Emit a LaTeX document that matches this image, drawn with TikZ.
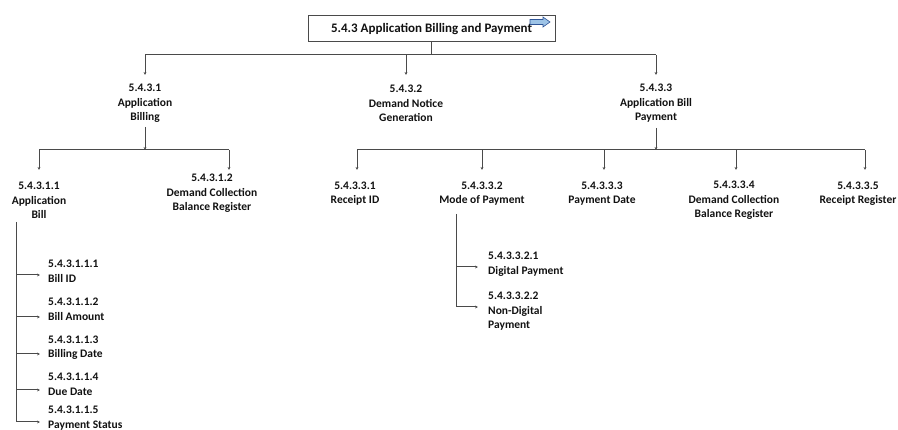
\documentclass[tikz,border=0pt]{standalone}
\usepackage{fontspec}
\setmainfont{Carlito}
\usetikzlibrary{arrows.meta}
\definecolor{ln}{HTML}{4A4A4A}
\definecolor{tx}{HTML}{111111}
\definecolor{icfill}{HTML}{9DC3E6}
\definecolor{icdraw}{HTML}{2F5597}
\tikzset{
  lbl/.style={align=center,inner sep=1pt,text=tx},
  leaf/.style={align=left,anchor=west,inner sep=0pt,text=tx},
  conn/.style={draw=ln,line width=1pt},
  arr/.style={conn,-{Stealth[length=3pt,width=2.8pt]}},
}
\begin{document}
\begin{tikzpicture}[x=1pt,y=-1pt,font=\fontsize{11.5}{14.5}\selectfont\bfseries]
\useasboundingbox (0,0) rectangle (898,430);
% root
\node[draw=ln,line width=1pt,minimum width=247pt,minimum height=26pt,inner sep=0pt,text=tx,font=\fontsize{13}{14}\selectfont\bfseries] (root) at (431.5,29) {5.4.3 Application Billing and Payment};
\fill[icfill,draw=icdraw,line width=0.6pt] (530,19.5) -- (543,19.5) -- (543,17) -- (550,22) -- (543,27) -- (543,24.5) -- (530,24.5) -- cycle;
% level 2
\node[lbl] (a) at (145,103.5) {5.4.3.1\\Application\\Billing};
\node[lbl] (b) at (406,103.5) {5.4.3.2\\Demand Notice\\Generation};
\node[lbl] (c) at (656,103.5) {5.4.3.3\\Application Bill\\Payment};
\coordinate (j0) at (431.5,55);
\coordinate (h0l) at (145,55);
\coordinate (h0m) at (406,55);
\coordinate (h0r) at (656,55);
\draw[conn] (root.south) -- (j0);
\draw[conn] (h0l) -- (h0r);
\draw[arr] (h0l) -- (145,75);
\draw[arr] (h0m) -- (406,75);
\draw[arr] (h0r) -- (656,75);
% level 3 left
\node[lbl] (a1) at (39,200.5) {5.4.3.1.1\\Application\\Bill};
\node[lbl] (a2) at (212,193.5) {5.4.3.1.2\\Demand Collection\\Balance Register};
\coordinate (ja) at (145,150);
\draw[arr] (145,127) -- (ja);
\draw[conn] (39,150) -- (229,150);
\draw[arr] (39,150) -- (39,170);
\draw[arr] (229,150) -- (229,170);
% level 3 right
\node[lbl] (c1) at (355,193.5) {5.4.3.3.1\\Receipt ID};
\node[lbl] (c2) at (482,193.5) {5.4.3.3.2\\Mode of Payment};
\node[lbl] (c3) at (602,193.5) {5.4.3.3.3\\Payment Date};
\node[lbl] (c4) at (734,200.5) {5.4.3.3.4\\Demand Collection\\Balance Register};
\node[lbl] (c5) at (858,193.5) {5.4.3.3.5\\Receipt Register};
\coordinate (jc) at (656,150);
\draw[arr] (656,128) -- (jc);
\draw[conn] (357,150) -- (865,150);
\draw[arr] (357,150) -- (357,170);
\draw[arr] (482,150) -- (482,170);
\draw[arr] (604,150) -- (604,170);
\draw[arr] (736,150) -- (736,170);
\draw[arr] (865,150) -- (865,170);
% leaves under Application Bill
\node[leaf] (l1) at (48,271) {5.4.3.1.1.1\\Bill ID};
\node[leaf] (l2) at (48,309.5) {5.4.3.1.1.2\\Bill Amount};
\node[leaf] (l3) at (48,347.5) {5.4.3.1.1.3\\Billing Date};
\node[leaf] (l4) at (48,384.5) {5.4.3.1.1.4\\Due Date};
\node[leaf] (l5) at (48,418) {5.4.3.1.1.5\\Payment Status};
\draw[conn] (16,222) -- (16,422);
\draw[arr] (16,275) -- (40,275);
\draw[arr] (16,317) -- (40,317);
\draw[arr] (16,354) -- (40,354);
\draw[arr] (16,390) -- (40,390);
\draw[arr] (16,422) -- (40,422);
% leaves under Mode of Payment
\node[leaf] (m1) at (488,264) {5.4.3.3.2.1\\Digital Payment};
\node[leaf] (m2) at (488,311.5) {5.4.3.3.2.2\\Non-Digital\\Payment};
\draw[conn] (456,214) -- (456,307);
\draw[arr] (456,267) -- (478,267);
\draw[arr] (456,307) -- (478,307);
\end{tikzpicture}
\end{document}
